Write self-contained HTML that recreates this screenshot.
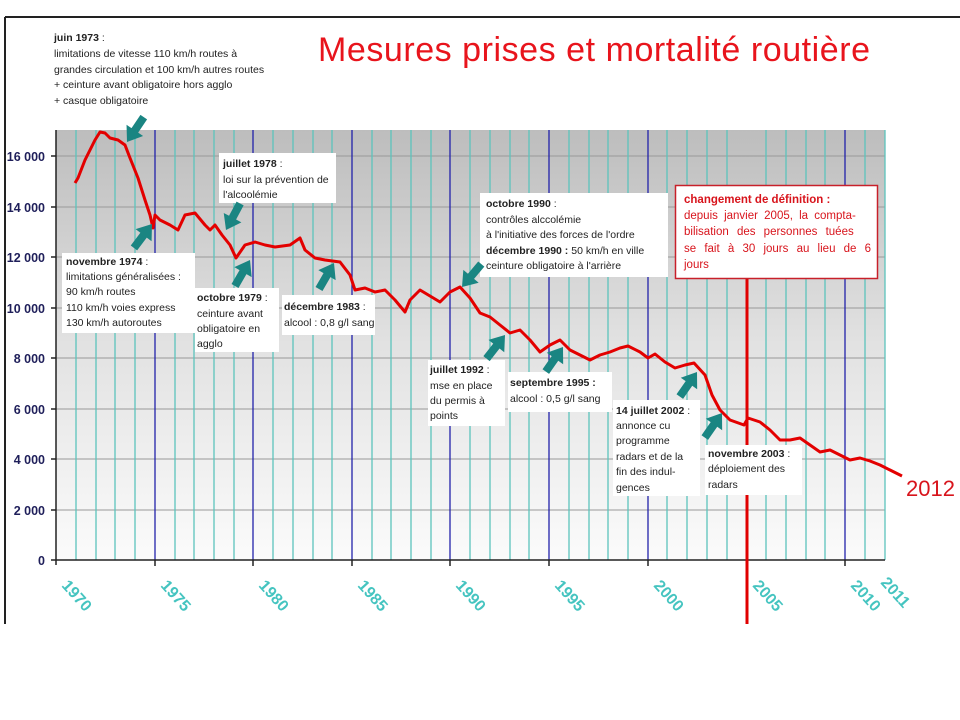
<!DOCTYPE html>
<html><head><meta charset="utf-8"><style>
body{margin:0;background:#fff;}
svg{display:block;font-family:"Liberation Sans",Arial,sans-serif;}
</style></head><body>
<svg width="960" height="720" viewBox="0 0 960 720" xmlns="http://www.w3.org/2000/svg">
<defs>
<linearGradient id="bg" x1="0" y1="0" x2="0" y2="1">
<stop offset="0" stop-color="#bdbdbd"/><stop offset="0.5" stop-color="#e2e2e2"/><stop offset="1" stop-color="#fbfbfb"/>
</linearGradient>
</defs>
<rect width="960" height="720" fill="#fff"/>
<line x1="5" y1="17" x2="960" y2="17" stroke="#222" stroke-width="2"/>
<line x1="5" y1="17" x2="5" y2="624" stroke="#222" stroke-width="2"/>
<rect x="56" y="130" width="829" height="430" fill="url(#bg)"/>
<g stroke="#999" stroke-width="1">
<line x1="56" y1="510" x2="885" y2="510"/><line x1="56" y1="459" x2="885" y2="459"/>
<line x1="56" y1="409" x2="885" y2="409"/><line x1="56" y1="358" x2="885" y2="358"/>
<line x1="56" y1="308" x2="885" y2="308"/><line x1="56" y1="257" x2="885" y2="257"/>
<line x1="56" y1="207" x2="885" y2="207"/><line x1="56" y1="156" x2="885" y2="156"/>
</g>
<g stroke="#5cc4bc" stroke-width="1.3">
<line x1="76" y1="130" x2="76" y2="560"/><line x1="96" y1="130" x2="96" y2="560"/><line x1="115" y1="130" x2="115" y2="560"/><line x1="135" y1="130" x2="135" y2="560"/>
<line x1="175" y1="130" x2="175" y2="560"/><line x1="194" y1="130" x2="194" y2="560"/><line x1="214" y1="130" x2="214" y2="560"/><line x1="234" y1="130" x2="234" y2="560"/>
<line x1="273" y1="130" x2="273" y2="560"/><line x1="293" y1="130" x2="293" y2="560"/><line x1="313" y1="130" x2="313" y2="560"/><line x1="332" y1="130" x2="332" y2="560"/>
<line x1="372" y1="130" x2="372" y2="560"/><line x1="391" y1="130" x2="391" y2="560"/><line x1="411" y1="130" x2="411" y2="560"/><line x1="431" y1="130" x2="431" y2="560"/>
<line x1="470" y1="130" x2="470" y2="560"/><line x1="490" y1="130" x2="490" y2="560"/><line x1="510" y1="130" x2="510" y2="560"/><line x1="529" y1="130" x2="529" y2="560"/>
<line x1="569" y1="130" x2="569" y2="560"/><line x1="589" y1="130" x2="589" y2="560"/><line x1="608" y1="130" x2="608" y2="560"/><line x1="628" y1="130" x2="628" y2="560"/>
<line x1="667" y1="130" x2="667" y2="560"/><line x1="687" y1="130" x2="687" y2="560"/><line x1="707" y1="130" x2="707" y2="560"/><line x1="727" y1="130" x2="727" y2="560"/>
<line x1="766" y1="130" x2="766" y2="560"/><line x1="786" y1="130" x2="786" y2="560"/><line x1="806" y1="130" x2="806" y2="560"/><line x1="825" y1="130" x2="825" y2="560"/>
<line x1="865" y1="130" x2="865" y2="560"/><line x1="885" y1="130" x2="885" y2="560"/>
</g>
<g stroke="#2222aa" stroke-width="1.3">
<line x1="155" y1="130" x2="155" y2="560"/><line x1="253" y1="130" x2="253" y2="560"/><line x1="352" y1="130" x2="352" y2="560"/><line x1="450" y1="130" x2="450" y2="560"/><line x1="549" y1="130" x2="549" y2="560"/><line x1="648" y1="130" x2="648" y2="560"/><line x1="845" y1="130" x2="845" y2="560"/>
</g>
<g stroke="#222" stroke-width="1.5">
<line x1="56" y1="130" x2="56" y2="565"/><line x1="51" y1="560" x2="885" y2="560"/>
<line x1="51" y1="510" x2="56" y2="510"/><line x1="51" y1="459" x2="56" y2="459"/><line x1="51" y1="409" x2="56" y2="409"/><line x1="51" y1="358" x2="56" y2="358"/><line x1="51" y1="308" x2="56" y2="308"/><line x1="51" y1="257" x2="56" y2="257"/><line x1="51" y1="207" x2="56" y2="207"/><line x1="51" y1="156" x2="56" y2="156"/>
<line x1="155" y1="560" x2="155" y2="566"/><line x1="253" y1="560" x2="253" y2="566"/><line x1="352" y1="560" x2="352" y2="566"/><line x1="450" y1="560" x2="450" y2="566"/><line x1="549" y1="560" x2="549" y2="566"/><line x1="648" y1="560" x2="648" y2="566"/><line x1="747" y1="560" x2="747" y2="566"/><line x1="845" y1="560" x2="845" y2="566"/>
</g>
<g fill="#1f1f5a" font-size="12.5" font-weight="bold" text-anchor="end">
<text x="45" y="565">0</text><text x="45" y="515">2 000</text><text x="45" y="464">4 000</text><text x="45" y="414">6 000</text><text x="45" y="363">8 000</text><text x="45" y="313">10 000</text><text x="45" y="262">12 000</text><text x="45" y="212">14 000</text><text x="45" y="161">16 000</text>
</g>
<g fill="#45c4c0" font-size="16" font-weight="bold">
<text transform="translate(61,586) rotate(48)">1970</text>
<text transform="translate(160,586) rotate(48)">1975</text>
<text transform="translate(258,586) rotate(48)">1980</text>
<text transform="translate(357,586) rotate(48)">1985</text>
<text transform="translate(455,586) rotate(48)">1990</text>
<text transform="translate(554,586) rotate(48)">1995</text>
<text transform="translate(653,586) rotate(48)">2000</text>
<text transform="translate(752,586) rotate(48)">2005</text>
<text transform="translate(850,586) rotate(48)">2010</text>
<text transform="translate(880,583) rotate(48)">2011</text>
</g>
<line x1="747" y1="279" x2="747" y2="624" stroke="#e00000" stroke-width="3"/>
<polyline fill="none" stroke="#e30000" stroke-width="3" stroke-linejoin="round" points="75,183 78,178 85,160 95,140 100,132 105,133 110,138 118,140 125,145 130,158 138,178 145,200 150,215 153,228 155,215 160,220 170,225 178,230 185,215 195,213 205,225 210,230 215,225 222,235 230,245 236,258 245,245 255,242 265,245 275,247 290,245 300,238 305,250 315,258 325,260 340,262 350,275 355,290 365,288 375,292 385,290 395,300 405,312 410,300 420,290 430,296 440,302 450,292 460,287 470,298 480,313 490,317 500,325 510,333 520,330 530,340 540,352 550,345 560,340 570,350 580,355 590,360 600,355 610,352 620,348 628,346 640,352 648,358 655,354 665,362 675,368 685,365 694,363 705,375 712,395 720,410 730,420 744,425 748,418 760,422 770,430 780,440 790,440 800,438 810,445 820,452 830,450 840,455 850,460 860,458 870,461 880,465 890,470 902,476"/>
<g fill="#fff">
<rect x="219" y="153" width="117" height="50"/>
<rect x="62" y="253" width="133" height="80"/>
<rect x="195" y="288" width="84" height="64"/>
<rect x="282" y="295" width="93" height="40"/>
<rect x="480" y="193" width="188" height="84"/>
<rect x="428" y="360" width="77" height="66"/>
<rect x="508" y="372" width="104" height="40"/>
<rect x="613" y="400" width="87" height="96"/>
<rect x="705" y="445" width="97" height="50"/>
</g>
<rect x="675.5" y="185.5" width="202" height="93" fill="#fff" stroke="#c8202a" stroke-width="1.5"/>
<g fill="#1a8582">
<g transform="translate(127,142) rotate(-56)"><polygon points="0,0 14,-10 14,-4 30,-4 30,4 14,4 14,10"/></g>
<g transform="translate(152,224) rotate(127)"><polygon points="0,0 14,-10 14,-4 30,-4 30,4 14,4 14,10"/></g>
<g transform="translate(226,230) rotate(-62)"><polygon points="0,0 14,-10 14,-4 30,-4 30,4 14,4 14,10"/></g>
<g transform="translate(250,260) rotate(120)"><polygon points="0,0 14,-10 14,-4 30,-4 30,4 14,4 14,10"/></g>
<g transform="translate(334,263) rotate(120)"><polygon points="0,0 14,-10 14,-4 30,-4 30,4 14,4 14,10"/></g>
<g transform="translate(462,287) rotate(-50)"><polygon points="0,0 14,-10 14,-4 30,-4 30,4 14,4 14,10"/></g>
<g transform="translate(505,335) rotate(128)"><polygon points="0,0 14,-10 14,-4 30,-4 30,4 14,4 14,10"/></g>
<g transform="translate(563,347) rotate(125)"><polygon points="0,0 14,-10 14,-4 30,-4 30,4 14,4 14,10"/></g>
<g transform="translate(697,372) rotate(125)"><polygon points="0,0 14,-10 14,-4 30,-4 30,4 14,4 14,10"/></g>
<g transform="translate(722,413) rotate(125)"><polygon points="0,0 14,-10 14,-4 30,-4 30,4 14,4 14,10"/></g>
</g>
<text x="318" y="61" fill="#e8141c" font-size="34" textLength="552">Mesures prises et mortalité routière</text>
<text x="906" y="496" fill="#d8141c" font-size="22">2012</text>
<g fill="#222" font-size="10.5">
<text x="54" y="41"><tspan font-weight="bold">juin 1973</tspan> :</text>
<text x="54" y="57">limitations de vitesse 110 km/h routes à</text>
<text x="54" y="73">grandes circulation et 100 km/h autres routes</text>
<text x="54" y="88">+ ceinture avant obligatoire hors agglo</text>
<text x="54" y="104">+ casque obligatoire</text>
<text x="223" y="167"><tspan font-weight="bold">juillet 1978</tspan> :</text>
<text x="223" y="183">loi sur la prévention de</text>
<text x="223" y="198">l'alcoolémie</text>
<text x="66" y="265"><tspan font-weight="bold">novembre 1974</tspan> :</text>
<text x="66" y="280">limitations généralisées :</text>
<text x="66" y="295">90 km/h routes</text>
<text x="66" y="311">110 km/h voies express</text>
<text x="66" y="326">130 km/h autoroutes</text>
<text x="197" y="301"><tspan font-weight="bold">octobre 1979</tspan> :</text>
<text x="197" y="317">ceinture avant</text>
<text x="197" y="332">obligatoire en</text>
<text x="197" y="347">agglo</text>
<text x="284" y="310"><tspan font-weight="bold">décembre 1983</tspan> :</text>
<text x="284" y="326">alcool : 0,8 g/l sang</text>
<text x="486" y="207"><tspan font-weight="bold">octobre 1990</tspan> :</text>
<text x="486" y="223">contrôles alccolémie</text>
<text x="486" y="238">à l'initiative des forces de l'ordre</text>
<text x="486" y="254"><tspan font-weight="bold">décembre 1990 :</tspan> 50 km/h en ville</text>
<text x="486" y="269">ceinture  obligatoire à l'arrière</text>
<text x="430" y="373"><tspan font-weight="bold">juillet 1992</tspan> :</text>
<text x="430" y="389">mse en place</text>
<text x="430" y="404">du permis à</text>
<text x="430" y="419">points</text>
<text x="510" y="386"><tspan font-weight="bold">septembre 1995 :</tspan></text>
<text x="510" y="402">alcool : 0,5 g/l sang</text>
<text x="616" y="414"><tspan font-weight="bold">14 juillet 2002</tspan> :</text>
<text x="616" y="429">annonce cu</text>
<text x="616" y="444">programme</text>
<text x="616" y="460">radars et de la</text>
<text x="616" y="475">fin des indul-</text>
<text x="616" y="491">gences</text>
<text x="708" y="457"><tspan font-weight="bold">novembre 2003</tspan> :</text>
<text x="708" y="472">déploiement des</text>
<text x="708" y="488">radars</text>
</g>
<g fill="#d8141c" font-size="11.5">
<text x="684" y="203" font-weight="bold">changement de définition :</text>
<text x="684" y="219" word-spacing="3">depuis janvier 2005, la compta-</text>
<text x="684" y="235" word-spacing="5">bilisation des personnes tuées</text>
<text x="684" y="252" word-spacing="5">se fait à 30 jours au lieu de 6</text>
<text x="684" y="268">jours</text>
</g>
</svg>
</body></html>
